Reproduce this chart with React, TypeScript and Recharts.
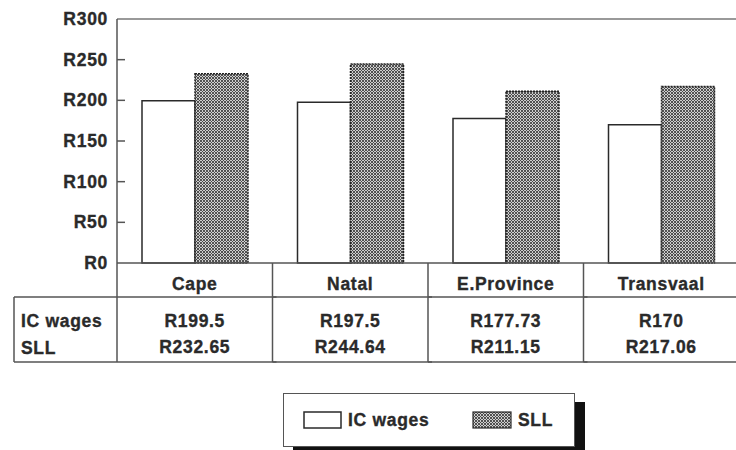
import { BarChart, Bar, XAxis, YAxis, ReferenceLine, Legend } from 'recharts';

const categories = ['Cape', 'Natal', 'E.Province', 'Transvaal'];
const icWages = [199.5, 197.5, 177.73, 170];
const sllValues = [232.65, 244.64, 211.15, 217.06];
const icLabels = ['R199.5', 'R197.5', 'R177.73', 'R170'];
const sllLabels = ['R232.65', 'R244.64', 'R211.15', 'R217.06'];
const yTicks = [0, 50, 100, 150, 200, 250, 300];

const data = categories.map((name, i) => ({
    name,
    ic: icWages[i],
    sll: sllValues[i],
    icLabel: icLabels[i],
    sllLabel: sllLabels[i],
}));

const FONT = '"Liberation Sans", Arial, sans-serif';
const INK = '#2a2a2a';
const LINE = '#555';

const textStyle = {
    fontFamily: FONT,
    fontWeight: 700,
    fontSize: 17.5,
    letterSpacing: 0.7,
    fill: INK,
    stroke: INK,
    strokeWidth: 0.35,
};

function YTick(props: any) {
    const { x, y, payload } = props;
    const v = payload.value;
    return (
        <g>
            <text x={x} y={y} dy={6} textAnchor="end" style={textStyle}>
                {'R' + v}
            </text>
            {v !== 0 && v !== 300 && (
                <line x1={x + 9} x2={x + 17} y1={y} y2={y} stroke={LINE} strokeWidth={1.5} />
            )}
        </g>
    );
}

// category axis doubles as the data table under the chart
function TableTick(props: any) {
    const { x, y, payload, width, visibleTicksCount } = props;
    const i = categories.indexOf(payload.value);
    const half = width && visibleTicksCount ? width / visibleTicksCount / 2 : 77.75;
    const left = x - half;
    const right = x + half;
    const row = data[i];
    return (
        <g>
            <text x={x} y={y + 27} textAnchor="middle" style={textStyle}>{payload.value}</text>
            <text x={x} y={y + 64} textAnchor="middle" style={textStyle}>{row.icLabel}</text>
            <text x={x} y={y + 90} textAnchor="middle" style={textStyle}>{row.sllLabel}</text>
            <line x1={right} x2={right} y1={y} y2={y + 99} stroke={LINE} strokeWidth={1.5} />
            <line x1={left} x2={right + 4} y1={y + 34} y2={y + 34} stroke={LINE} strokeWidth={1.5} />
            <line x1={left} x2={right + 4} y1={y + 99} y2={y + 99} stroke={LINE} strokeWidth={1.5} />
            {i === 0 && (
                <g>
                    <line x1={left} x2={left} y1={y} y2={y + 99} stroke={LINE} strokeWidth={1.5} />
                    <line x1={left - 103} x2={left} y1={y + 34} y2={y + 34} stroke={LINE} strokeWidth={1.5} />
                    <line x1={left - 103} x2={left} y1={y + 99} y2={y + 99} stroke={LINE} strokeWidth={1.5} />
                    <line x1={left - 103} x2={left - 103} y1={y + 34} y2={y + 99} stroke={LINE} strokeWidth={1.5} />
                    <text x={left - 96} y={y + 64} style={textStyle}>IC wages</text>
                    <text x={left - 96} y={y + 91} style={textStyle}>SLL</text>
                </g>
            )}
        </g>
    );
}

function LegendBox() {
    return (
        <div
            style={{
                boxSizing: 'border-box',
                width: 292,
                height: 54,
                border: `1.5px solid ${LINE}`,
                background: '#fff',
                boxShadow: '10px 9px 0 #111',
                position: 'relative',
            }}
        >
            <svg width={292} height={54} style={{ position: 'absolute', left: 0, top: 0 }}>
                <rect x={20} y={18} width={37} height={16} fill="#fff" stroke={INK} strokeWidth={1.5} />
                <text x={64} y={32} style={textStyle}>IC wages</text>
                <rect x={189} y={18} width={38} height={16} fill="url(#hatch)" stroke={INK} strokeWidth={1.2} />
                <text x={234} y={32} style={textStyle}>SLL</text>
            </svg>
        </div>
    );
}

export default function App() {
    return (
        <div style={{ position: 'absolute', left: 0, top: 0, width: 736, height: 450, overflow: 'hidden', background: '#fff' }}>
            <BarChart
                width={740}
                height={450}
                data={data}
                margin={{ top: 19, right: 1, left: 0, bottom: 0 }}
                barCategoryGap={25}
                barGap={0}
            >
                <defs>
                    <pattern id="hatch" width={3} height={3} patternUnits="userSpaceOnUse">
                        <rect width={3} height={3} fill="#cfcfcf" />
                        <path d="M0,0 L3,3 M3,0 L0,3" stroke="#444" strokeWidth={0.9} />
                    </pattern>
                </defs>
                <YAxis
                    width={117}
                    domain={[0, 300]}
                    ticks={yTicks}
                    interval={0}
                    tickLine={false}
                    tickSize={0}
                    tickMargin={9}
                    axisLine={{ stroke: LINE, strokeWidth: 1.5 }}
                    tick={<YTick />}
                />
                <XAxis
                    dataKey="name"
                    height={187}
                    interval={0}
                    tickLine={false}
                    tickSize={0}
                    tickMargin={0}
                    axisLine={{ stroke: LINE, strokeWidth: 1.5 }}
                    tick={<TableTick />}
                />
                <ReferenceLine y={300} stroke="#777" strokeWidth={1.5} />
                <Legend
                    layout="horizontal"
                    verticalAlign="middle"
                    align="center"
                    wrapperStyle={{ left: 283, top: 393, width: 292 }}
                    content={() => <LegendBox />}
                />
                <Bar dataKey="ic" name="IC wages" fill="#fff" stroke={INK} strokeWidth={1.5} isAnimationActive={false} />
                <Bar
                    dataKey="sll"
                    name="SLL"
                    fill="url(#hatch)"
                    stroke="#222"
                    strokeWidth={1.5}
                    strokeDasharray="2 1"
                    isAnimationActive={false}
                />
            </BarChart>
        </div>
    );
}
